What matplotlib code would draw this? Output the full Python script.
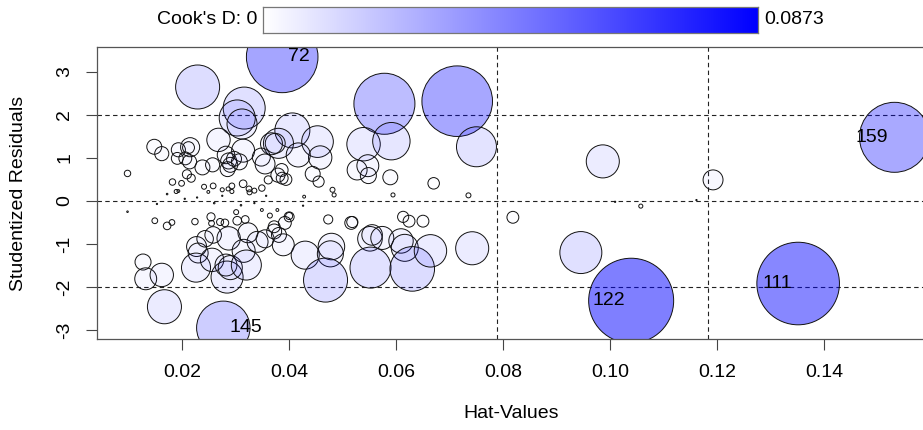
import numpy as np
import matplotlib
matplotlib.use("Agg")
import matplotlib.pyplot as plt
from matplotlib.colors import LinearSegmentedColormap

plt.rcParams["font.family"] = ["Liberation Sans", "DejaVu Sans"]
plt.rcParams["axes.unicode_minus"] = False

# hat values, studentized residuals and Cook's distance per observation
hat_values = [
    0.0387, 0.1531, 0.1351, 0.1039, 0.0277, 0.0714, 0.0578, 0.0229, 0.0316, 0.0303,
    0.0312, 0.0268, 0.0314, 0.0750, 0.0539, 0.0591, 0.0406, 0.0453, 0.0458, 0.0380,
    0.0374, 0.0367, 0.0348, 0.0355, 0.0386, 0.0379, 0.0394, 0.0417, 0.0148, 0.0162,
    0.0193, 0.0215, 0.0212, 0.0191, 0.0206, 0.0214, 0.0238, 0.0257, 0.0209, 0.0217,
    0.0098, 0.0282, 0.0287, 0.0290, 0.0297, 0.0307, 0.0285, 0.0527, 0.0547, 0.0548,
    0.0589, 0.0670, 0.0444, 0.0455, 0.0481, 0.0428, 0.0484, 0.0594, 0.0735, 0.0182,
    0.0199, 0.0189, 0.0193, 0.0241, 0.0258, 0.0249, 0.0275, 0.0286, 0.0293, 0.0293,
    0.0314, 0.0325, 0.0326, 0.0335, 0.0349, 0.0361, 0.0387, 0.0172, 0.0228, 0.0275,
    0.0357, 0.0098, 0.0149, 0.0172, 0.0181, 0.0224, 0.0254, 0.0255, 0.0271, 0.0280,
    0.0301, 0.0303, 0.0318, 0.0349, 0.0364, 0.0378, 0.0400, 0.0127, 0.0132, 0.0162,
    0.0167, 0.0227, 0.0230, 0.0226, 0.0243, 0.0258, 0.0256, 0.0284, 0.0282, 0.0290,
    0.0287, 0.0315, 0.0320, 0.0323, 0.0341, 0.0355, 0.0372, 0.0372, 0.0381, 0.0389,
    0.0392, 0.0400, 0.0430, 0.0473, 0.0516, 0.0518, 0.0479, 0.0477, 0.0468, 0.0551,
    0.0555, 0.0574, 0.0552, 0.0609, 0.0616, 0.0613, 0.0624, 0.0650, 0.0630, 0.0664,
    0.0742, 0.0986, 0.1192, 0.0818, 0.1057, 0.1009, 0.1161, 0.0945, 0.0426, 0.0153,
    0.0260, 0.0310, 0.0205, 0.0335,
]
rstudent = [
    3.35, 1.48, -1.92, -2.32, -2.95, 2.32, 2.26, 2.65, 2.16, 1.93,
    1.79, 1.42, 1.17, 1.26, 1.32, 1.39, 1.64, 1.38, 1.01, 1.34,
    1.34, 1.33, 1.02, 0.86, 0.72, 0.60, 0.50, 1.07, 1.26, 1.10,
    1.19, 1.25, 1.24, 0.99, 0.99, 0.91, 0.78, 0.84, 0.62, 0.53,
    0.64, 1.07, 0.93, 0.84, 0.98, 0.91, 0.74, 0.72, 0.82, 0.59,
    0.55, 0.41, 0.63, 0.45, 0.26, 0.10, 0.14, 0.14, 0.13, 0.44,
    0.41, 0.22, 0.23, 0.33, 0.35, 0.21, 0.26, 0.28, 0.35, 0.22,
    0.40, 0.28, 0.20, 0.24, 0.30, 0.49, 0.53, 0.16, 0.08, 0.12,
    0.12, -0.25, -0.46, -0.58, -0.50, -0.48, -0.37, -0.52, -0.49, -0.51,
    -0.26, -0.46, -0.43, -0.21, -0.34, -0.21, -0.35, -1.42, -1.81, -1.72,
    -2.46, -1.06, -1.21, -1.55, -0.88, -0.79, -1.37, -1.77, -1.49, -1.55,
    -0.87, -1.16, -1.49, -0.74, -0.95, -0.88, -0.71, -0.60, -0.79, -1.02,
    -0.51, -0.37, -1.26, -0.43, -0.51, -0.49, -1.06, -1.23, -1.84, -0.88,
    -0.79, -0.86, -1.55, -0.93, -1.09, -0.37, -0.47, -0.47, -1.58, -1.16,
    -1.10, 0.92, 0.49, -0.38, -0.12, -0.02, 0.02, -1.20, -0.11, -0.07,
    -0.05, -0.10, 0.05, -0.05,
]
cooks_d = [
    0.0619, 0.0592, 0.0824, 0.0873, 0.0345, 0.0602, 0.0450, 0.0234, 0.0213, 0.0157,
    0.0109, 0.0066, 0.0064, 0.0193, 0.0135, 0.0169, 0.0148, 0.0121, 0.0066, 0.0109,
    0.0048, 0.0058, 0.0039, 0.0048, 0.0020, 0.0024, 0.0017, 0.0070, 0.0027, 0.0024,
    0.0024, 0.0044, 0.0017, 0.0017, 0.0020, 0.0024, 0.0027, 0.0024, 0.0010, 0.0008,
    0.0005, 0.0037, 0.0031, 0.0027, 0.0027, 0.0031, 0.0027, 0.0048, 0.0058, 0.0031,
    0.0027, 0.0016, 0.0027, 0.0015, 0.0003, 0.0001, 0.0002, 0.0002, 0.0003, 0.0005,
    0.0004, 0.0002, 0.0001, 0.0003, 0.0004, 0.0001, 0.0002, 0.0002, 0.0004, 0.0002,
    0.0007, 0.0004, 0.0003, 0.0003, 0.0005, 0.0008, 0.0017, 0.00003, 0.00002, 0.00002,
    0.00002, 0.00003, 0.0004, 0.0007, 0.0004, 0.0005, 0.0008, 0.0004, 0.0006, 0.0007,
    0.0003, 0.0009, 0.0007, 0.0001, 0.0003, 0.0001, 0.0006, 0.0031, 0.0058, 0.0066,
    0.0140, 0.0048, 0.0048, 0.0102, 0.0033, 0.0033, 0.0066, 0.0124, 0.0058, 0.0070,
    0.0066, 0.0064, 0.0109, 0.0048, 0.0053, 0.0039, 0.0027, 0.0017, 0.0027, 0.0058,
    0.0020, 0.0012, 0.0095, 0.0010, 0.0020, 0.0015, 0.0085, 0.0082, 0.0234, 0.0073,
    0.0051, 0.0064, 0.0203, 0.0072, 0.0088, 0.0015, 0.0017, 0.0017, 0.0240, 0.0127,
    0.0132, 0.0132, 0.0048, 0.0017, 0.0002, 0.00002, 0.00002, 0.0213, 0.00002, 0.00002,
    0.00003, 0.00003, 0.00002, 0.00002,
]
# first five observations are the labelled ones
point_labels = ["72", "159", "111", "122", "145"]

hat = np.array(hat_values)
rst = np.array(rstudent)
cd = np.array(cooks_d)
d_max = cd.max()
h_bar = 0.0394  # mean hat value (p/n)
FS = 14

fig = plt.figure(figsize=(9.23, 4.30), dpi=100)
ax = fig.add_axes([97 / 923, 91 / 430, 828 / 923, 292 / 430])

frac = cd / d_max
face = np.zeros((len(cd), 4))
face[:, 2] = 1.0
face[:, 3] = 0.5 * frac
ax.scatter(hat, rst, s=3745 * frac, facecolors=face, edgecolors="#111111",
           linewidths=0.7, zorder=2)

for y in (-2, 0, 2):
    ax.axhline(y, color="#222222", lw=0.8, ls=(0, (4, 3)), zorder=1)
for k in (2, 3):
    ax.axvline(k * h_bar, color="#222222", lw=0.8, ls=(0, (4, 3)), zorder=1)

x_mid = (hat.min() + hat.max()) / 2
for i, lab in enumerate(point_labels):
    right = hat[i] < x_mid
    ax.annotate(lab, (hat[i], rst[i]), xytext=(4.5 if right else -4.5, 0),
                textcoords="offset points", ha="left" if right else "right",
                va="center", fontsize=FS, zorder=3)

ax.set_xlim(0.0041, 0.1588)
ax.set_ylim(-3.21, 3.58)
ax.set_xticks([0.02, 0.04, 0.06, 0.08, 0.10, 0.12, 0.14])
ax.set_xticklabels(["0.02", "0.04", "0.06", "0.08", "0.10", "0.12", "0.14"])
ax.set_yticks([-3, -2, -1, 0, 1, 2, 3])
ax.tick_params(axis="x", length=8, width=0.8, color="#444444", pad=10, labelsize=FS)
ax.tick_params(axis="y", length=8, width=0.8, color="#444444", pad=9, labelsize=FS)
for lab in ax.get_yticklabels():
    lab.set_rotation(90)
    lab.set_va("center")
for sp in ax.spines.values():
    sp.set_color("#555555")
    sp.set_linewidth(0.9)
ax.set_xlabel("Hat-Values", fontsize=FS, labelpad=17)
ax.set_ylabel("Studentized Residuals", fontsize=FS, labelpad=21)

# Cook's D colour key
cax = fig.add_axes([263 / 923, (430 - 33) / 430, 495 / 923, 26 / 430])
cmap = LinearSegmentedColormap.from_list("cook", ["white", "#0000ff"])
cax.imshow(np.linspace(0, 1, 256)[None, :], aspect="auto", cmap=cmap,
           extent=[0, 1, 0, 1])
cax.set_xticks([])
cax.set_yticks([])
for sp in cax.spines.values():
    sp.set_color("#777777")
    sp.set_linewidth(0.9)
fig.text(257 / 923, 1 - 20 / 430, "Cook's D: 0", ha="right", va="center", fontsize=FS)
fig.text(764 / 923, 1 - 20 / 430, f"{d_max:.4f}", ha="left", va="center", fontsize=FS)

fig.savefig("out.png", dpi=100)
